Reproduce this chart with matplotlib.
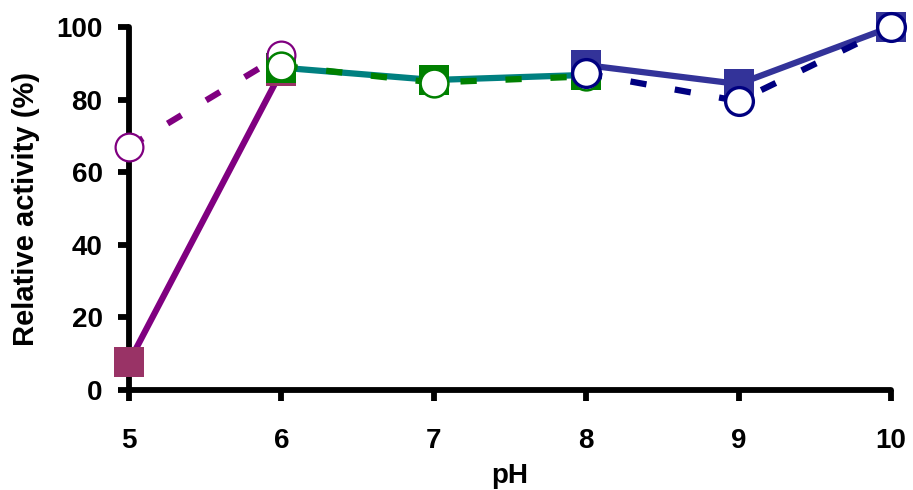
import matplotlib
matplotlib.use("Agg")
import matplotlib.pyplot as plt

plt.rcParams['font.family'] = ['Liberation Sans', 'DejaVu Sans']
plt.rcParams['font.weight'] = 'bold'

# Solid series (squares), three segments
ph_a = [5, 6]
ph_b = [6, 7, 8]
ph_c = [8, 9, 10]
solid_a = [7.7, 87.8]
solid_b = [88.8, 85.4, 86.8]
solid_c = [89.5, 84.3, 100]
# Dashed series (open circles), three segments
dash_a = [67.0, 92.3]
dash_b = [89.3, 84.7, 86.4]
dash_c = [87.2, 79.6, 100]

xticks = [5, 6, 7, 8, 9, 10]
yticks = [0, 20, 40, 60, 80, 100]

fig = plt.figure(figsize=(9.13, 4.90), dpi=100)
ax = fig.add_axes([129/913, 100/490, (891-129)/913, (390-27)/490])

lw = 4.5
ms_sq = 21
ms_ci = 20

solid_specs = [
    (ph_a, solid_a, '#800080', '#993366'),
    (ph_b, solid_b, '#008080', '#008000'),
    (ph_c, solid_c, '#333399', '#333399'),
]
for x, y, lc, mc in solid_specs:
    ax.plot(x, y, '-', color=lc, lw=lw, marker='s', ms=ms_sq,
            mfc=mc, mec=mc, mew=0, clip_on=False, solid_capstyle='butt',
            zorder=3)

dash_specs = [
    (ph_a, dash_a, '#800080', 1.6),
    (ph_b, dash_b, '#008000', 1.8),
    (ph_c, dash_c, '#000080', 2.4),
]
for x, y, lc, ew in dash_specs:
    line, = ax.plot(x, y, color=lc, lw=lw, marker='o', ms=ms_ci,
                    mfc='white', mec=lc, mew=ew, clip_on=False,
                    dash_capstyle='butt', zorder=4)
    line.set_dashes((2.6, 4.6))

ax.set_xlim(5, 10)
ax.set_ylim(0, 100)
ax.set_xticks(xticks)
ax.set_yticks(yticks)
ax.set_xticklabels([str(v) for v in xticks], fontsize=20, fontweight='bold')
ax.set_yticklabels([str(v) for v in yticks], fontsize=20, fontweight='bold')
ax.set_xlabel('pH', fontsize=20, fontweight='bold', labelpad=7)
ax.set_ylabel('Relative activity (%)', fontsize=21, fontweight='bold', labelpad=12)

for s in ['top', 'right']:
    ax.spines[s].set_visible(False)
for s in ['left', 'bottom']:
    ax.spines[s].set_linewidth(4.2)
    ax.spines[s].set_capstyle('round')
ax.tick_params(axis='both', direction='out', length=8, width=4.2, color='black')
ax.tick_params(axis='x', pad=19)
ax.tick_params(axis='y', pad=11)

fig.savefig('out.png', dpi=100)
